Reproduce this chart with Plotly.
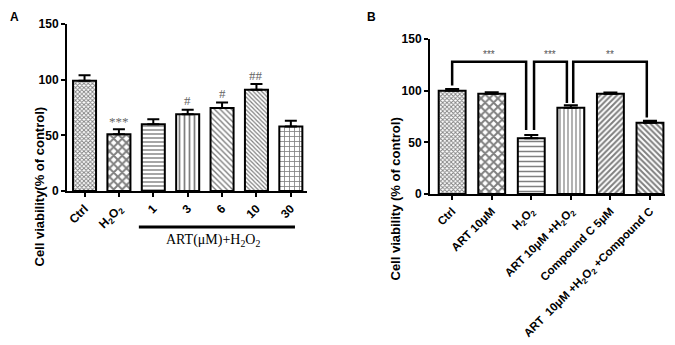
import plotly.graph_objects as go

# ---- Panel A data ----
a_labels = ["Ctrl", "H<sub>2</sub>O<sub>2</sub>", "1", "3", "6", "10", "30"]
a_values = [99, 51, 60, 69, 74.5, 91, 58]
a_errors = [5, 4.5, 4.5, 4, 5, 5, 5]
a_marks = ["", "***", "", "#", "#", "##", ""]
a_mark_y = [0, 62, 0, 81, 87.5, 103.5, 0]
a_patterns = ["x", "x", "-", "|", "\\", "\\", "+"]
a_pat_size = [3, 6, 4, 5, 4, 3, 5]
a_solidity = [0.5, 0.55, 0.35, 0.35, 0.35, 0.4, 0.3]

# ---- Panel B data ----
b_labels = ["Ctrl", "ART 10μM", "H<sub>2</sub>O<sub>2</sub>", "ART 10μM +H<sub>2</sub>O<sub>2</sub>",
            "Compound C 5μM", "ART  10μM +H<sub>2</sub>O<sub>2</sub> +Compound C"]
b_values = [100, 97, 54, 83.5, 97, 69]
b_errors = [1.5, 1.5, 3, 2.5, 1.2, 2]
b_patterns = ["x", "x", "-", "|", "/", "\\"]
b_pat_size = [3, 6, 5, 4, 4, 4]
b_solidity = [0.5, 0.55, 0.3, 0.3, 0.5, 0.5]
b_brackets = [  # (x0, x1, top, left_bottom, right_bottom, label)
    (0, 1.87, 128, 105, 62, "***"),
    (2.07, 2.9, 128, 62, 88, "***"),
    (3.06, 4.92, 128, 88, 74, "**"),
]

FONT = "Liberation Sans, Arial, sans-serif"
SERIF = "Liberation Serif, Times New Roman, serif"
OFF = 8  # page body margin


def px(xp):
    return (xp - OFF) / 675


def py(yp):
    return 1 - (yp - OFF) / 345


fig = go.Figure()

fig.add_trace(go.Bar(
    x=list(range(len(a_values))), y=a_values, width=0.67,
    marker=dict(color="white", line=dict(color="black", width=2),
                pattern=dict(shape=a_patterns, size=a_pat_size, fgcolor="black",
                             bgcolor="white", solidity=a_solidity)),
    error_y=dict(type="data", array=a_errors, arrayminus=[0]*len(a_errors),
                 color="black", thickness=2, width=6),
    xaxis="x", yaxis="y", showlegend=False))

fig.add_trace(go.Bar(
    x=list(range(len(b_values))), y=b_values, width=0.68,
    marker=dict(color="white", line=dict(color="black", width=2),
                pattern=dict(shape=b_patterns, size=b_pat_size, fgcolor="black",
                             bgcolor="white", solidity=b_solidity)),
    error_y=dict(type="data", array=b_errors, arrayminus=[0]*len(b_errors),
                 color="black", thickness=2, width=7),
    xaxis="x2", yaxis="y2", showlegend=False))

axis_common = dict(showline=True, linecolor="black", linewidth=2, ticks="outside",
                   tickcolor="black", tickwidth=2, ticklen=4, showgrid=False,
                   zeroline=False, automargin=False)
yfont = dict(family=FONT, size=12, color="black", weight="bold")

fig.update_layout(
    width=675, height=345, margin=dict(l=0, r=0, t=0, b=0),
    paper_bgcolor="white", plot_bgcolor="white",
    xaxis=dict(domain=[px(67), px(307)], range=[-0.51, 6.47], anchor="y",
               tickvals=list(range(len(a_labels))), ticktext=a_labels, tickangle=-45,
               tickfont=dict(family=FONT, size=12, color="black", weight="bold"),
               **axis_common),
    yaxis=dict(domain=[py(191), py(24)], range=[0, 150], anchor="x",
               tickvals=[0, 50, 100, 150], tickfont=yfont, **axis_common),
    xaxis2=dict(domain=[px(430), px(665)], range=[-0.56, 5.38], anchor="y2",
                tickvals=list(range(len(b_labels))), ticktext=b_labels, tickangle=-45,
                tickfont=dict(family=FONT, size=11.5, color="black", weight="bold"),
                **axis_common),
    yaxis2=dict(domain=[py(194), py(39)], range=[0, 150], anchor="x2",
                tickvals=[0, 50, 100, 150], tickfont=yfont, **axis_common),
)

ann = []
# significance marks panel A
for i, (m, yv) in enumerate(zip(a_marks, a_mark_y)):
    if m:
        ann.append(dict(x=i, y=yv, xref="x", yref="y", text=m, showarrow=False,
                        font=dict(family=SERIF, size=13, color="#666")))
# brackets panel B
for x0, x1, top, lb, rb, lab in b_brackets:
    fig.add_shape(type="path", xref="x2", yref="y2",
                  path=f"M {x0},{lb} L {x0},{top} L {x1},{top} L {x1},{rb}",
                  line=dict(color="black", width=2.5))
    ann.append(dict(x=(x0 + x1) / 2, y=top + 7, xref="x2", yref="y2", text=lab,
                    showarrow=False, font=dict(family=FONT, size=10, color="#555")))

# group underline panel A
fig.add_shape(type="line", xref="x", yref="paper", x0=1.58, x1=6.12, y0=py(227), y1=py(227),
              line=dict(color="black", width=3))
ann.append(dict(x=3.74, y=py(230), xref="x", yref="paper", yanchor="top",
                text="ART(μM)+H<sub>2</sub>O<sub>2</sub>",
                showarrow=False, font=dict(family=SERIF, size=14, color="black")))

# axis titles
ann.append(dict(x=px(29), y=py(105), xref="paper", yref="paper",
                text="Cell viability(% of control)", textangle=-90, showarrow=False,
                font=dict(family=FONT, size=13, color="black", weight="bold")))
ann.append(dict(x=px(395), y=py(116), xref="paper", yref="paper",
                text="Cell viability (% of control)", textangle=-90, showarrow=False,
                font=dict(family=FONT, size=13, color="black", weight="bold")))
# panel letters
ann.append(dict(x=0, y=1, xref="paper", yref="paper", xanchor="left", yanchor="top",
                text="A", showarrow=False,
                font=dict(family=FONT, size=12, color="black", weight="bold")))
ann.append(dict(x=px(371), y=1, xref="paper", yref="paper", yanchor="top", text="B",
                showarrow=False, font=dict(family=FONT, size=12, color="black", weight="bold")))

fig.update_layout(annotations=ann)
fig.write_html("out.html")
